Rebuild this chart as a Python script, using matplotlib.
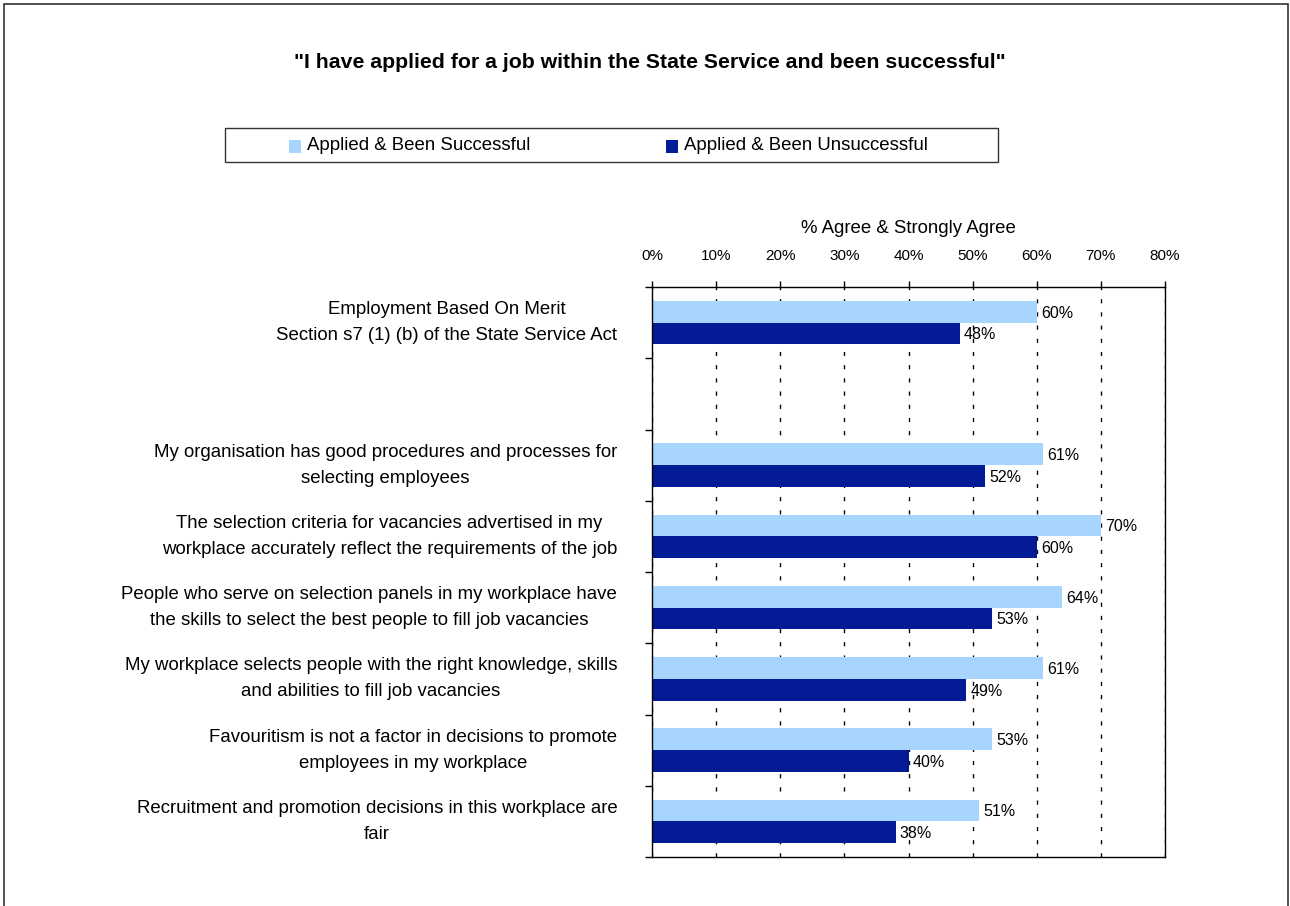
import numpy as np
import matplotlib
matplotlib.use("Agg")
import matplotlib.pyplot as plt
from matplotlib.patches import Rectangle
from matplotlib import font_manager

W, H = 1290, 906
FONT = "Liberation Sans"
names = {f.name for f in font_manager.fontManager.ttflist}
TITLE_FONT = "Liberation Sans Narrow" if "Liberation Sans Narrow" in names else FONT
plt.rcParams["font.family"] = FONT

TITLE = '"I have applied for a job within the State Service and been successful"'
SERIES = ["Applied & Been Successful", "Applied & Been Unsuccessful"]
COLORS = ["#A8D5FE", "#031B94"]
categories = [
    "Employment Based On Merit\nSection s7 (1) (b) of the State Service Act",
    "",
    "My organisation has good procedures and processes for\nselecting employees",
    "The selection criteria for vacancies advertised in my\nworkplace accurately reflect the requirements of the job",
    "People who serve on selection panels in my workplace have\nthe skills to select the best people to fill job vacancies",
    "My workplace selects people with the right knowledge, skills\nand abilities to fill job vacancies",
    "Favouritism is not a factor in decisions to promote\nemployees in my workplace",
    "Recruitment and promotion decisions in this workplace are\nfair",
]
successful = [60, np.nan, 61, 70, 64, 61, 53, 51]
unsuccessful = [48, np.nan, 52, 60, 53, 49, 40, 38]
xticks = [0, 10, 20, 30, 40, 50, 60, 70, 80]


def fx(x): return x / W
def fy(y): return 1 - y / H


fig = plt.figure(figsize=(W / 100, H / 100), dpi=100)

# outer chart frame (bottom edge runs off the page)
fig.add_artist(Rectangle((fx(4), fy(930)), fx(1288 - 4), fy(4) - fy(930),
                         transform=fig.transFigure, fill=False, ec="#333333", lw=1.2))

fig.text(fx(650), fy(62), TITLE, ha="center", va="center", fontsize=15.3,
         fontweight="bold", family=TITLE_FONT)

# legend box
fig.add_artist(Rectangle((fx(225), fy(162)), fx(998 - 225), fy(128) - fy(162),
                         transform=fig.transFigure, fill=False, ec="#333333", lw=1))
for lx, name, c in zip([289, 666], SERIES, COLORS):
    fig.add_artist(Rectangle((fx(lx), fy(153)), fx(12), fy(140) - fy(153),
                             transform=fig.transFigure, fc=c, ec="none"))
    fig.text(fx(lx + 18), fy(145), name, ha="left", va="center", fontsize=13.4)

ax = fig.add_axes([fx(652), fy(857), fx(1165 - 652), fy(287) - fy(857)])
n = len(categories)
y = np.arange(n) + 0.5
h = 0.307
ax.barh(y - h / 2, successful, height=h, color=COLORS[0], zorder=2)
ax.barh(y + h / 2, unsuccessful, height=h, color=COLORS[1], zorder=2)

for yi, v in zip(y - h / 2, successful):
    if not np.isnan(v):
        ax.annotate(f"{v:.0f}%", (v, yi), xytext=(3, -1), textcoords="offset points",
                    va="center", ha="left", fontsize=11.5, zorder=3)
for yi, v in zip(y + h / 2, unsuccessful):
    if not np.isnan(v):
        ax.annotate(f"{v:.0f}%", (v, yi), xytext=(3, -1), textcoords="offset points",
                    va="center", ha="left", fontsize=11.5, zorder=3)

ax.set_xlim(0, 80)
ax.set_ylim(n, 0)
ax.xaxis.tick_top()
ax.set_xticks(xticks)
ax.set_xticklabels([f"{t}%" for t in xticks], fontsize=11)
ax.tick_params(axis="x", direction="out", length=4, width=1, pad=13)
ax.xaxis.set_label_position("top")
ax.set_xlabel("% Agree & Strongly Agree", fontsize=13.4, labelpad=12)

# category boundaries get outward ticks; the labels sit centred in each band
ax.set_yticks(np.arange(n + 1))
ax.set_yticklabels([])
ax.tick_params(axis="y", which="major", direction="out", length=5, width=1)
for yi, lab in zip(y, categories):
    ax.annotate(lab, (0, yi), xycoords=("axes fraction", "data"),
                xytext=(-25, 0), textcoords="offset points",
                ha="right", va="center", multialignment="center",
                fontsize=13.4, linespacing=1.7)

ax.grid(axis="x", color="black", lw=1, linestyle=(0, (3, 6.5)), zorder=1)
ax.set_axisbelow(True)
for s in ax.spines.values():
    s.set_color("black")
    s.set_linewidth(1)

fig.savefig("out.png", dpi=100)
